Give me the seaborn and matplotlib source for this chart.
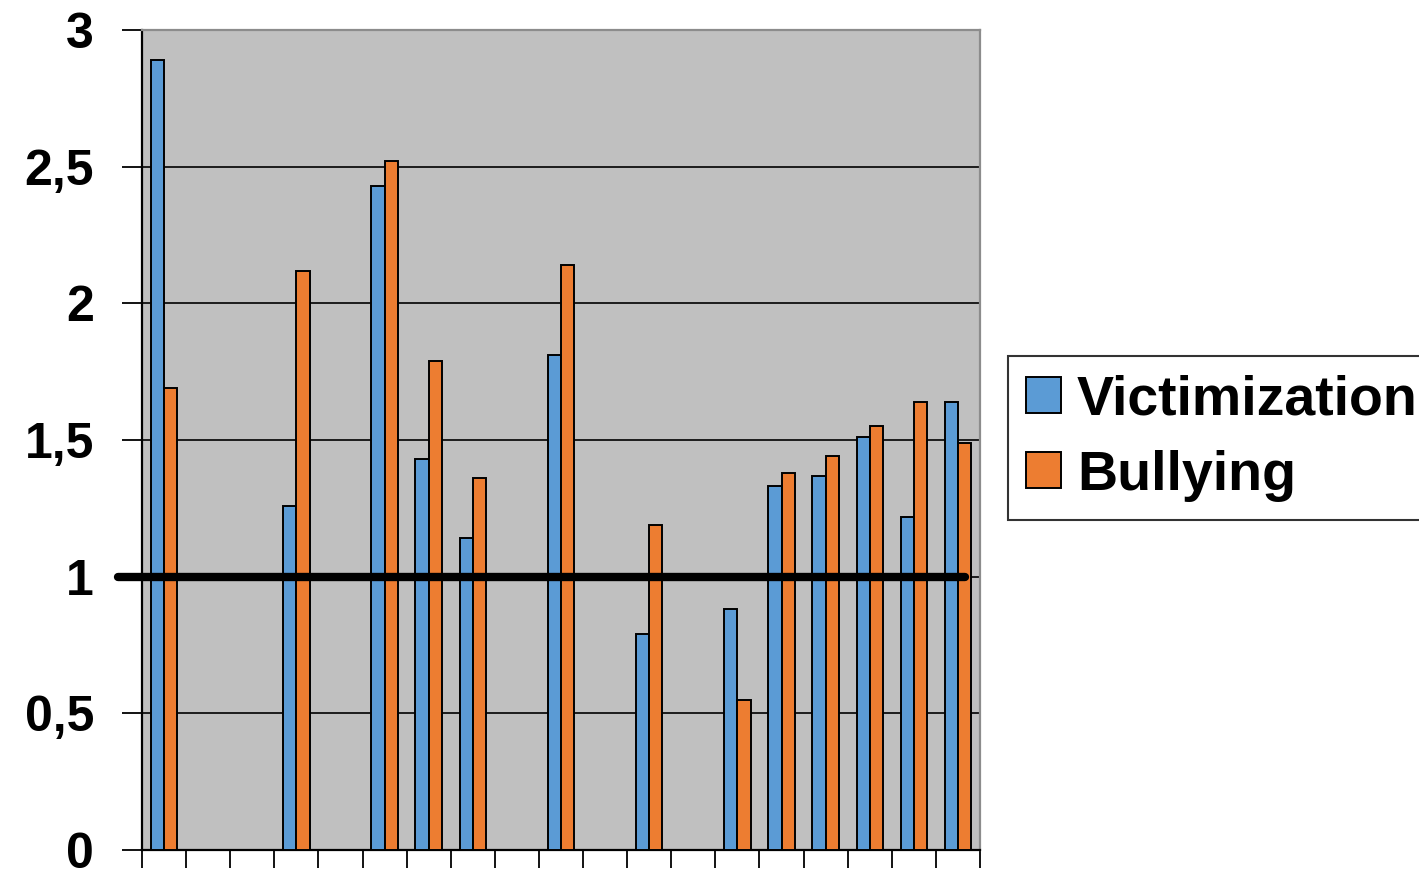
import numpy as np
import pandas as pd
import matplotlib
matplotlib.use("Agg")
import matplotlib.pyplot as plt
import matplotlib.transforms as mtransforms
import seaborn as sns

# values (NaN = no bar)
groups = list(range(1, 20))
victimization = [2.89, np.nan, np.nan, 1.26, np.nan, 2.43, 1.43, 1.14, np.nan, 1.81,
                 np.nan, 0.79, np.nan, 0.88, 1.33, 1.37, 1.51, 1.22, 1.64]
bullying = [1.69, np.nan, np.nan, 2.12, np.nan, 2.52, 1.79, 1.36, np.nan, 2.14,
            np.nan, 1.19, np.nan, 0.55, 1.38, 1.44, 1.55, 1.64, 1.49]
series = ["Victimization", "Bullying"]
colors = ["#5B9BD5", "#ED7D31"]
y_ticks = [0, 0.5, 1, 1.5, 2, 2.5, 3]
y_labels = ["0", "0,5", "1", "1,5", "2", "2,5", "3"]
ref_line = 1

df = pd.DataFrame({
    "group": groups * 2,
    "value": victimization + bullying,
    "series": [series[0]] * len(groups) + [series[1]] * len(groups),
})

sns.set_theme(style="white")
plt.rcParams["font.family"] = ["Liberation Sans", "DejaVu Sans"]
plt.rcParams["text.color"] = "black"
plt.rcParams["ytick.color"] = "black"
plt.rcParams["xtick.color"] = "black"

fig = plt.figure(figsize=(14.19, 8.72), dpi=100)
ax = fig.add_axes([142 / 1419, 22 / 872, 838 / 1419, 820 / 872])
ax.set_facecolor("#C0C0C0")

sns.barplot(data=df, x="group", y="value", hue="series", hue_order=series,
            palette=colors, width=0.6, edgecolor="black", linewidth=1.4,
            saturation=1, ax=ax, zorder=3)

ax.set_ylim(0, 3)
ax.set_xlim(-0.5, len(groups) - 0.5)
ax.set_yticks(y_ticks)
ax.set_yticklabels(y_labels, fontsize=36, fontweight="bold", color="black")
ax.set_xticks(np.arange(-0.5, len(groups), 1))
ax.set_xticklabels([])
ax.set_xlabel("")
ax.set_ylabel("")
ax.tick_params(axis="y", length=14.5, width=1.3, color="black", pad=20, direction="out", left=True)
ax.tick_params(axis="x", length=13, width=1.3, color="black", direction="out", bottom=True)
ax.yaxis.grid(True, color="black", linewidth=1.2, zorder=1)
ax.set_axisbelow(True)

for side in ["left", "bottom"]:
    ax.spines[side].set_color("black")
    ax.spines[side].set_linewidth(1.6)
for side in ["top", "right"]:
    ax.spines[side].set_color("#8C8C8C")
    ax.spines[side].set_linewidth(1.6)

# thick reference line at 1
trans = mtransforms.blended_transform_factory(ax.transAxes, ax.transData)
ax.plot([-0.029, 0.982], [ref_line, ref_line], color="black", linewidth=6,
        transform=trans, clip_on=False, zorder=5)

handles, labels = ax.get_legend_handles_labels()
ax.legend_.remove()
leg = fig.legend(handles, labels, loc="upper left", bbox_to_anchor=(1008 / 1419, 1 - 356 / 872),
                 prop={"size": 40, "weight": "bold"}, frameon=True, fancybox=False,
                 edgecolor="black", handlelength=0.63, handleheight=0.63, handletextpad=0.28,
                 labelspacing=0.42, borderpad=0.33, borderaxespad=0)
leg.get_frame().set_linewidth(1.5)
for t in leg.get_texts():
    t.set_color("black")

fig.savefig("out.png", dpi=100)
